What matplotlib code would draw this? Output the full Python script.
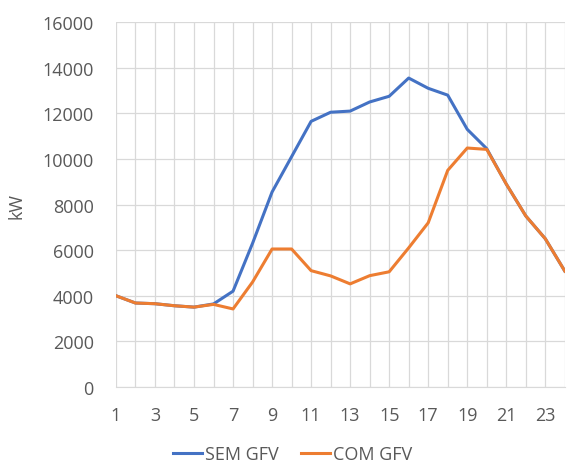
import matplotlib.pyplot as plt

# hourly load profile, with and without the PV generator
hours = list(range(1, 25))
sem_gfv = [4000, 3680, 3650, 3560, 3500, 3640, 4200, 6300, 8550, 10100,
           11650, 12050, 12100, 12500, 12750, 13550, 13100, 12800, 11300, 10450,
           8900, 7500, 6500, 5080]
com_gfv = [4000, 3680, 3650, 3560, 3500, 3620, 3420, 4600, 6050, 6050,
           5100, 4870, 4520, 4880, 5050, 6100, 7200, 9500, 10480, 10420,
           8900, 7500, 6500, 5080]
xticks = list(range(1, 24, 2))
yticks = list(range(0, 16001, 2000))

plt.rcParams['font.family'] = ['Open Sans', 'DejaVu Sans']
grey = '#595959'

fig = plt.figure(figsize=(5.74, 4.64), dpi=100)
ax = fig.add_axes([0.202, 0.164, 0.782, 0.786])

ax.plot(hours, sem_gfv, color='#4472C4', lw=2.2, label='SEM GFV', zorder=3)
ax.plot(hours, com_gfv, color='#ED7D31', lw=2.2, label='COM GFV', zorder=3)

ax.set_xlim(1, 24)
ax.set_ylim(0, 16000)
ax.set_xticks(hours, minor=True)
ax.set_xticks(xticks)
ax.set_yticks(yticks)
ax.grid(True, which='both', axis='x', color='#D9D9D9', lw=0.9)
ax.grid(True, which='major', axis='y', color='#D9D9D9', lw=0.9)
ax.tick_params(which='both', length=0, colors=grey, labelsize=13)
ax.tick_params(axis='x', pad=14)
ax.tick_params(axis='y', pad=16)
for s in ax.spines.values():
    s.set_visible(False)
ax.spines['bottom'].set_visible(True)
ax.spines['bottom'].set_color('#D9D9D9')

ax.set_ylabel('kW', color=grey, fontsize=13, labelpad=12)

fig.legend(loc='lower center', ncol=2, frameon=False, fontsize=13,
           labelcolor=grey, bbox_to_anchor=(0.51, -0.035), handlelength=1.6,
           handletextpad=0.2, columnspacing=1.2)

fig.savefig('out.png', dpi=100)
